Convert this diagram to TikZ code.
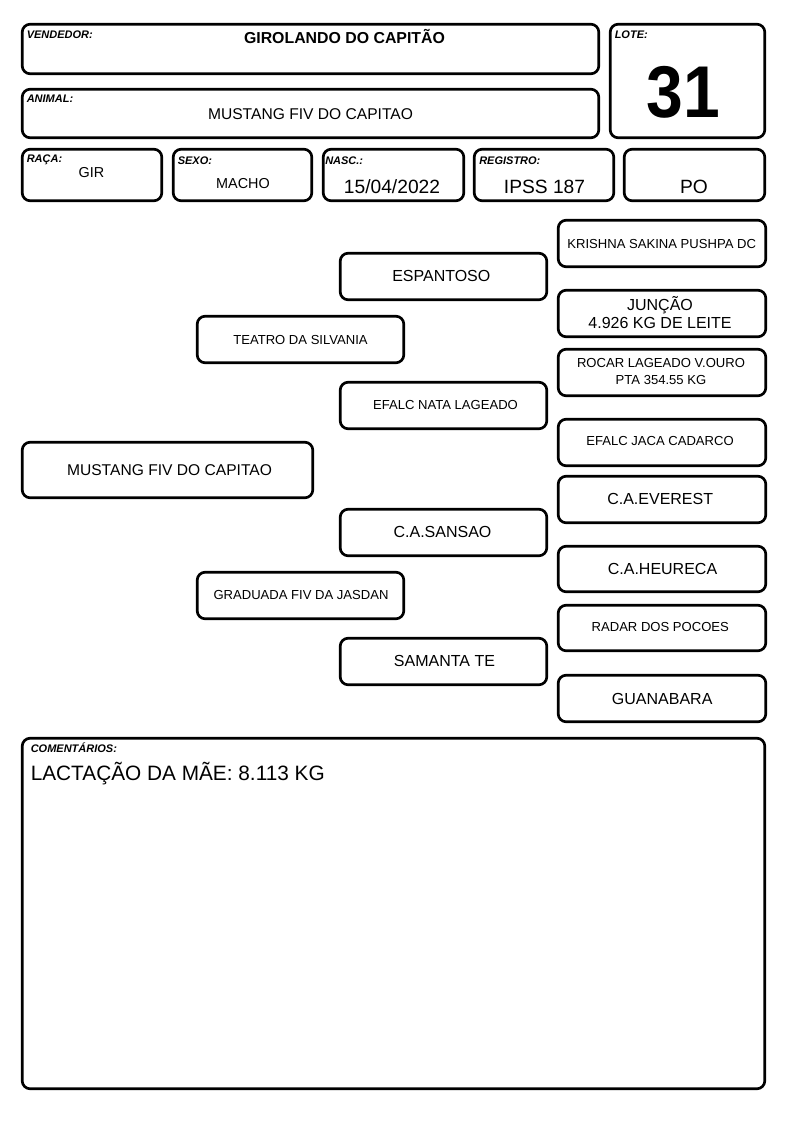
\documentclass[tikz,border=0pt]{standalone}
\usepackage{fontspec}
\usepackage{graphicx}
\setmainfont{Liberation Sans}
\usetikzlibrary{fit}
\begin{document}
\begin{tikzpicture}[x=0.75pt,y=-0.75pt,
  box/.style={draw, line width=2pt, rounded corners=6pt, inner sep=-0.9pt},
  lbl/.style={anchor=base west, inner sep=0pt, font=\fontsize{8.25}{9}\selectfont\bfseries\itshape},
  s98/.style={inner sep=0pt, text height=6.86pt, text depth=0pt, font=\fontsize{9.8}{11}\selectfont},
  s108/.style={inner sep=0pt, text height=7.56pt, text depth=0pt, font=\fontsize{10.8}{12}\selectfont},
  s117/.style={inner sep=0pt, text height=8.2pt, text depth=0pt, font=\fontsize{11.7}{13}\selectfont},
  s12/.style={inner sep=0pt, text height=8.4pt, text depth=0pt, font=\fontsize{12}{14}\selectfont},
  s144/.style={inner sep=0pt, text height=10.1pt, text depth=0pt, font=\fontsize{14.4}{16}\selectfont},
  s155/.style={inner sep=0pt, text height=10.9pt, text depth=0pt, font=\fontsize{15.6}{18}\selectfont},
  titlefont/.style={inner sep=0pt, text height=8.3pt, text depth=0pt, font=\fontsize{11.9}{14}\selectfont\bfseries},
  bignum/.style={inner sep=0pt, text height=38.5pt, text depth=0pt, font=\fontsize{55}{58}\selectfont\bfseries},
  multi/.style={inner sep=0pt, align=center}
]
\useasboundingbox (0,0) rectangle (794,1123);

% header boxes
\node[box, fit={(21,23) (600,75)}] (vend) {};
\node[box, fit={(21,88) (600,139)}] (animal) {};
\node[box, fit={(609,23) (766,139)}] (lote) {};
\node[box, fit={(21,148) (163,202)}] (raca) {};
\node[box, fit={(172,148) (313,202)}] (sexo) {};
\node[box, fit={(322,148) (465,202)}] (nasc) {};
\node[box, fit={(473,148) (615,202)}] (reg) {};
\node[box, fit={(623,148) (766,202)}] (po) {};

\node[lbl] (l-vend) at (26.5,39) {VENDEDOR:};
\node[lbl] (l-animal) at (26.5,102.7) {ANIMAL:};
\node[lbl] (l-lote) at (614.5,39) {LOTE:};
\node[lbl] (l-raca) at (26.5,163) {RAÇA:};
\node[lbl] (l-sexo) at (177.5,164.5) {SEXO:};
\node[lbl] (l-nasc) at (325,165) {NASC.:};
\node[lbl] (l-reg) at (479,165) {REGISTRO:};

\node[titlefont] (t-vend) at (344.5,37.5) {GIROLANDO DO CAPITÃO};
\node[s117] (t-animal) at (310.5,113.8) {MUSTANG FIV DO CAPITAO};
\node[bignum] (t-lote) at (683,92) {\scalebox{0.9}[1]{31}};
\node[s108] (t-raca) at (91.5,172) {GIR};
\node[s108] (t-sexo) at (243,183.5) {MACHO};
\node[s144] (t-nasc) at (392,186.3) {15/04/2022};
\node[s144] (t-reg) at (544.5,186.3) {IPSS 187};
\node[s144] (t-po) at (694,186.3) {PO};

% pedigree boxes
\node[box, fit={(557,219) (767,268)}] (krishna) {};
\node[box, fit={(339,252) (548,301)}] (espantoso) {};
\node[box, fit={(557,289) (767,338)}] (juncao) {};
\node[box, fit={(196,315) (405,364)}] (teatro) {};
\node[box, fit={(557,348) (767,397)}] (rocar) {};
\node[box, fit={(339,381) (548,430)}] (nata) {};
\node[box, fit={(557,418) (767,467)}] (jaca) {};
\node[box, fit={(21,441) (314,499)}] (mustang) {};
\node[box, fit={(557,475) (767,524)}] (everest) {};
\node[box, fit={(339,508) (548,557)}] (sansao) {};
\node[box, fit={(557,545) (767,593)}] (heureca) {};
\node[box, fit={(196,571) (405,620)}] (graduada) {};
\node[box, fit={(557,604) (767,652)}] (radar) {};
\node[box, fit={(339,637) (548,686)}] (samanta) {};
\node[box, fit={(557,674) (767,723)}] (guanabara) {};

\node[s98] (t-krishna) at (661.7,243.7) {KRISHNA SAKINA PUSHPA DC};
\node[s12] (t-espantoso) at (441.3,276) {ESPANTOSO};
\node[multi, font=\fontsize{12}{14}\selectfont] (t-juncao) at (660,312.5) {JUNÇÃO\\4.926 KG DE LEITE};
\node[s98] (t-teatro) at (300.5,340.3) {TEATRO DA SILVANIA};
\node[multi, font=\fontsize{9.8}{12.3}\selectfont] (t-rocar) at (661,371.5) {ROCAR LAGEADO V.OURO\\PTA 354.55 KG};
\node[s98] (t-nata) at (445.5,405) {EFALC NATA LAGEADO};
\node[s98] (t-jaca) at (660,441) {EFALC JACA CADARCO};
\node[s117] (t-mustang) at (169.5,470) {MUSTANG FIV DO CAPITAO};
\node[s12] (t-everest) at (660.2,498.5) {C.A.EVEREST};
\node[s12] (t-sansao) at (442.5,532) {C.A.SANSAO};
\node[s12] (t-heureca) at (662.5,568.8) {C.A.HEURECA};
\node[s98] (t-graduada) at (301,595) {GRADUADA FIV DA JASDAN};
\node[s98] (t-radar) at (660.3,626.7) {RADAR DOS POCOES};
\node[s12] (t-samanta) at (444.5,661) {SAMANTA TE};
\node[s12] (t-guanabara) at (662.2,698.5) {GUANABARA};

% comments
\node[box, fit={(21,737) (766,1090)}] (coment) {};
\node[lbl] (l-coment) at (30.5,752.7) {COMENTÁRIOS:};
\node[s155, anchor=west] (t-coment) at (30.5,773.7) {LACTAÇÃO DA MÃE: 8.113 KG};
\end{tikzpicture}
\end{document}
